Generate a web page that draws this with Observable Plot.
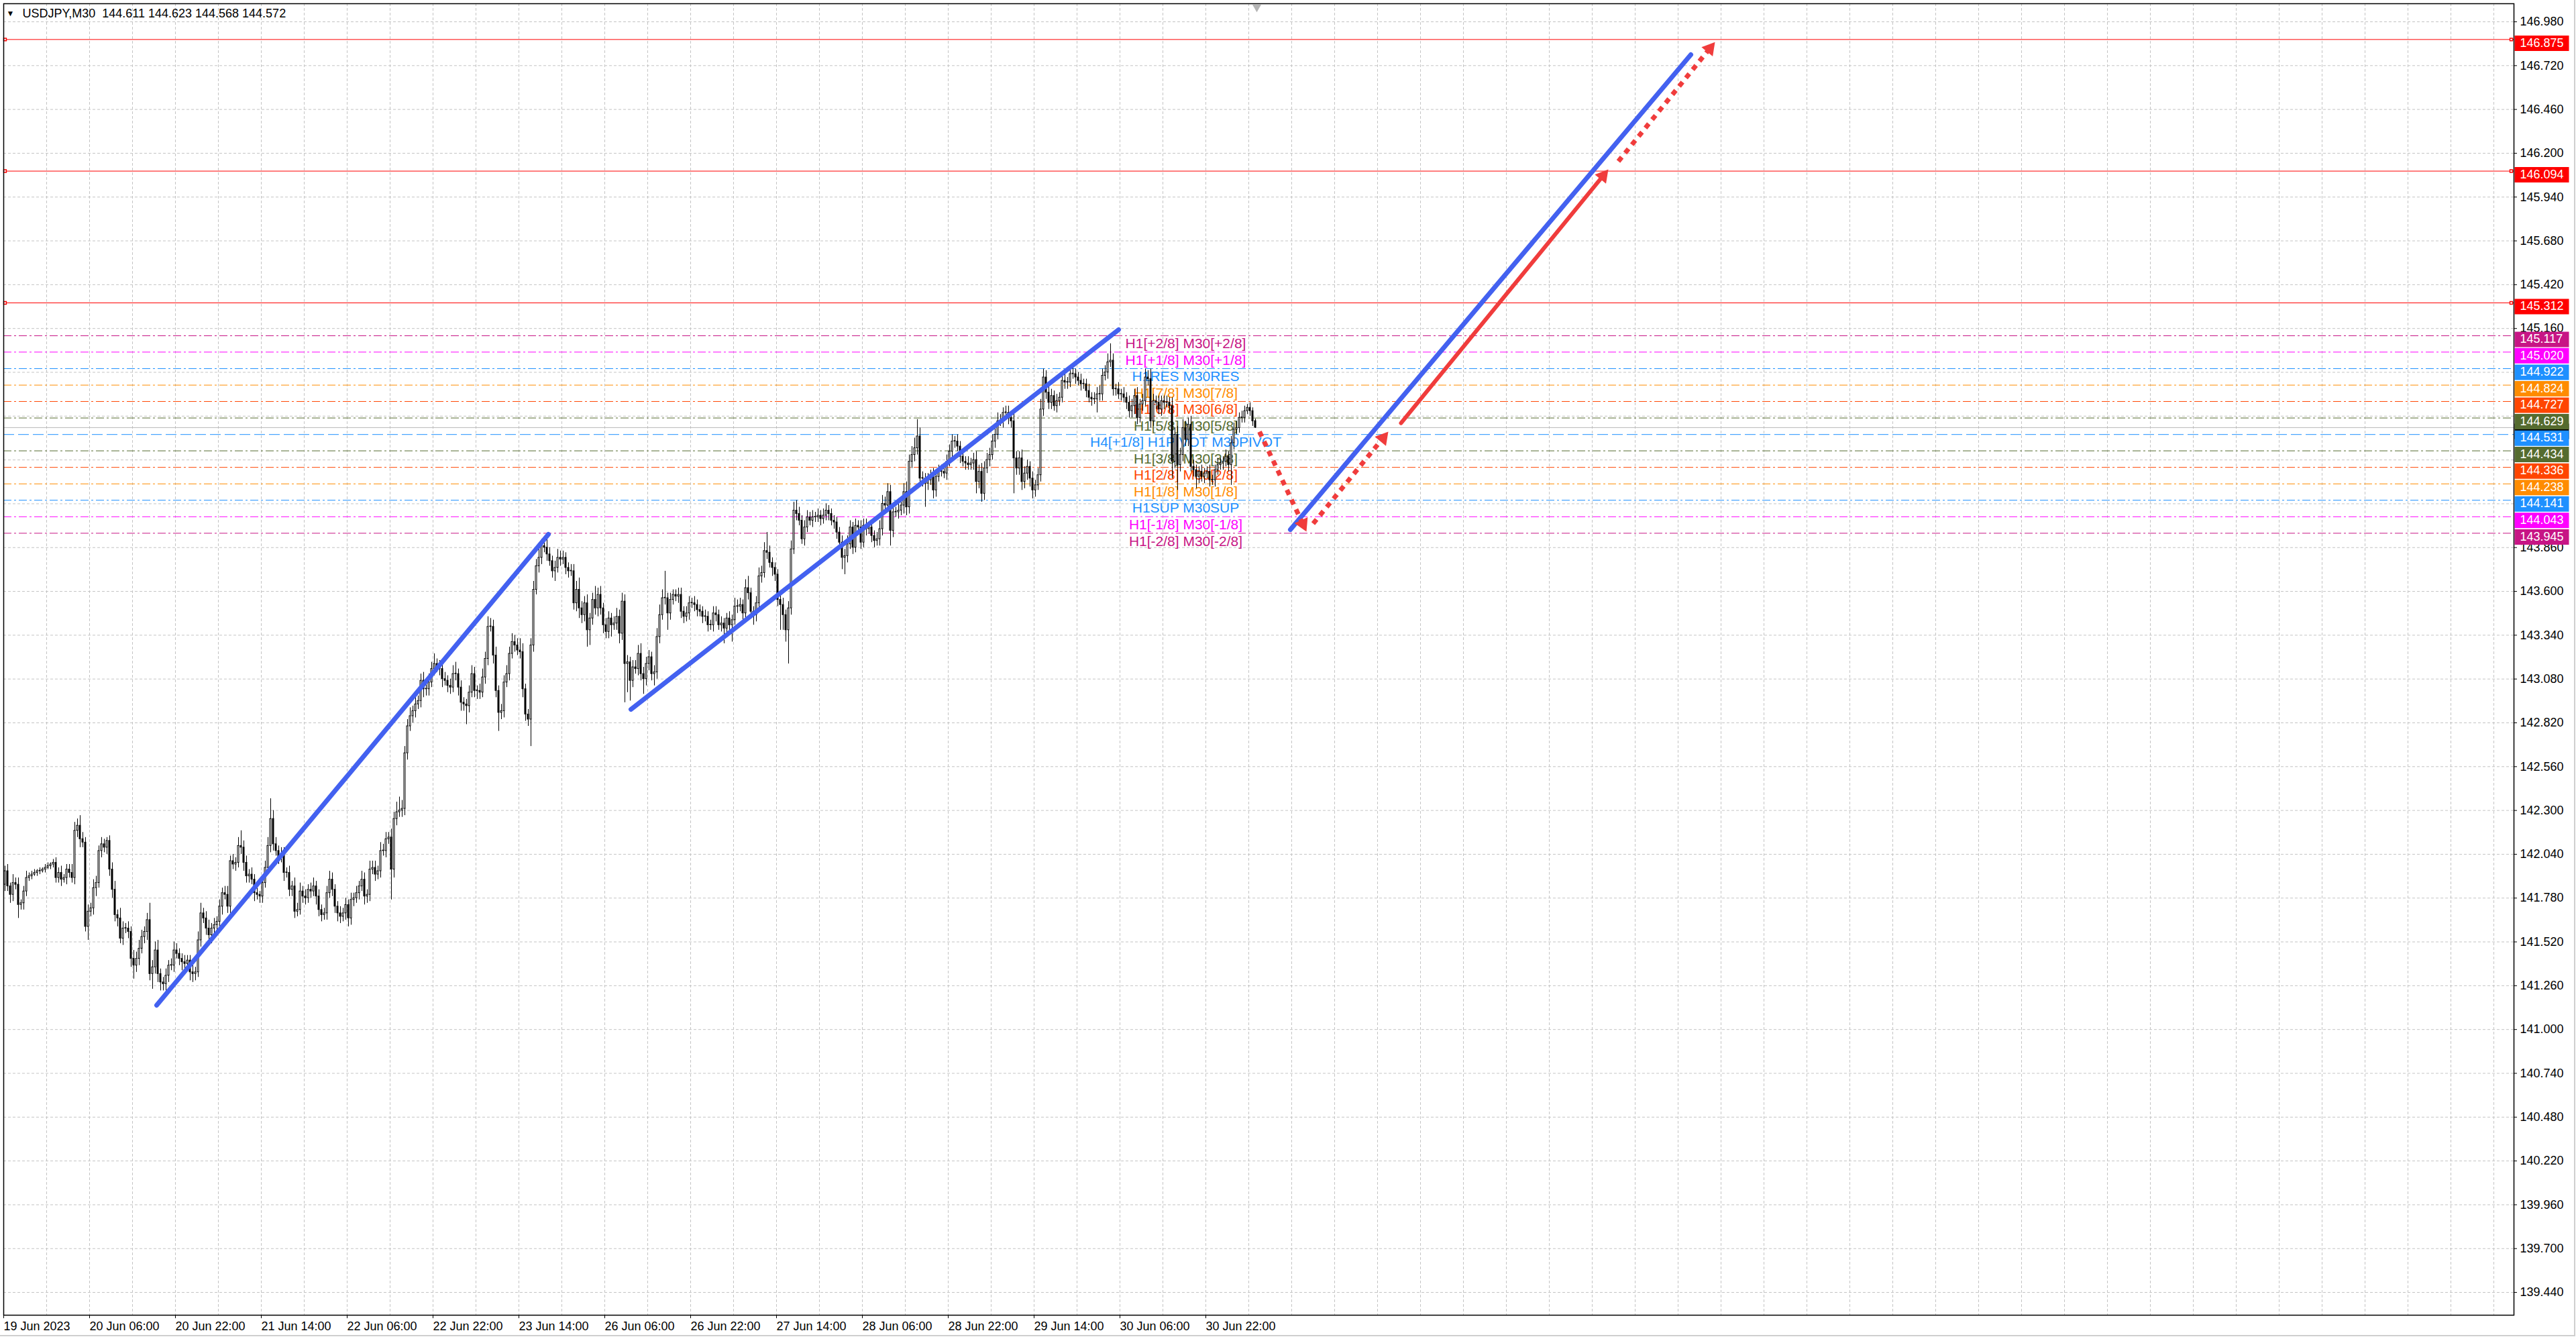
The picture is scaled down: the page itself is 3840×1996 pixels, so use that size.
<!DOCTYPE html>
<html><head><meta charset="utf-8">
<script src="https://cdn.jsdelivr.net/npm/d3@7"></script>
<script src="https://cdn.jsdelivr.net/npm/@observablehq/plot@0.6"></script>
<style>
html,body{margin:0;padding:0;background:#fff;}
#chart{position:relative;width:3840px;height:1996px;overflow:hidden;background:#fff}
#edge{position:absolute;left:0;top:0;width:3837px;height:1990px;border-right:2px solid #cfcfcf;border-bottom:2px solid #cfcfcf;pointer-events:none}
</style>
</head><body><div id="chart"><div id="edge"></div></div>
<script>
// ---------- DATA ----------
const symbolName = "USDJPY,M30";
const lastBar = [144.611, 144.623, 144.568, 144.572]; // O H L C of the last bar
const firstOpen = 141.86;
// closes in 0.01 JPY above 140.00, one per M30 bar from 19 Jun 14:00
const closes = [
194,185,180,187,186,174,175,182,190,191,192,193,194,194,195,196,197,198,199,190,
193,189,190,195,193,190,218,221,213,211,161,170,172,184,187,206,210,208,212,195,
183,168,166,154,160,160,158,142,138,142,148,155,158,165,133,137,147,133,128,127,
132,138,138,147,145,142,140,139,141,134,133,134,153,169,166,160,156,160,162,164,
173,181,180,173,200,198,199,209,208,199,191,192,189,181,180,179,187,196,209,225,
210,206,202,204,193,193,183,185,170,171,182,179,178,183,182,185,179,171,168,169,
181,189,183,173,169,167,169,174,166,177,178,181,185,189,179,180,195,196,192,194,
206,206,213,214,195,225,229,230,231,264,280,286,289,293,295,307,302,302,306,314,
317,315,314,308,307,304,303,311,311,303,294,293,292,300,311,301,301,300,309,320,
339,339,322,301,288,289,306,311,323,330,328,325,324,302,287,284,328,361,375,380,
387,386,382,378,372,374,380,379,380,374,372,372,353,361,350,346,353,337,344,355,
350,358,350,340,336,344,340,341,345,335,354,317,318,307,315,314,323,311,308,317,
321,311,312,333,346,356,356,347,355,358,357,358,348,345,347,353,353,352,349,348,
345,345,340,340,347,346,340,341,338,344,340,343,351,351,352,347,362,359,348,346,
353,369,371,384,383,377,374,370,355,352,346,337,350,385,408,406,402,391,398,404,
402,404,404,405,403,405,408,406,402,401,395,389,380,381,388,398,386,399,398,389,
399,397,398,393,390,391,397,412,411,419,396,407,407,408,411,419,410,437,441,445,
452,427,427,424,426,428,420,428,432,431,430,437,443,449,449,446,440,437,436,435,
436,438,425,431,418,433,438,441,449,453,461,461,466,466,463,461,439,433,439,425,
430,434,427,420,423,429,468,487,478,472,476,470,473,475,485,484,484,489,489,487,
485,483,483,479,475,474,474,477,477,488,490,496,497,480,480,477,477,475,472,467,
470,476,463,471,473,487,486,461,473,472,468,473,472,472,470,437,453,435,441,457,
450,459,434,432,428,431,428,430,431,426,426,432,435,436,437,440,435,448,456,457,
463,463,467,469,467,461,457];
// upper / lower wick lengths in 0.01 JPY
const upperWicks = [
3,4,2,5,3,4,2,3,4,2,2,2,1,2,1,2,2,1,2,3,3,4,2,3,3,5,5,4,6,4,3,4,3,5,4,3,4,3,2,3,
4,5,3,6,4,3,4,3,5,4,5,4,3,4,10,4,5,6,3,3,4,3,4,5,4,3,3,4,3,3,4,3,5,6,3,4,5,3,4,3,
4,3,4,5,3,4,3,5,9,4,4,3,4,3,3,2,4,4,5,12,5,4,3,4,4,3,4,3,5,4,5,3,4,3,4,5,3,4,3,3,
4,5,4,3,3,4,3,4,3,4,3,4,3,5,4,3,5,4,4,3,5,4,4,3,5,4,6,8,5,4,4,5,3,4,3,4,5,4,5,4,
6,3,4,3,4,3,4,5,7,3,4,3,3,4,5,4,3,4,5,4,6,5,4,5,3,4,4,5,4,5,4,4,7,5,3,3,4,5,4,5,
4,4,6,4,3,4,5,4,4,3,3,4,4,5,7,4,4,5,3,4,8,4,5,3,4,4,3,4,5,4,5,4,4,3,4,4,5,6,4,4,
4,3,4,5,6,5,16,3,4,3,3,4,4,3,4,4,3,4,3,3,3,4,3,3,4,4,3,4,3,3,4,3,5,4,4,3,5,7,3,3,
4,5,4,5,11,4,3,3,3,4,4,3,4,5,5,6,4,3,4,4,3,4,3,4,3,4,4,3,3,3,3,3,4,4,5,4,3,4,3,4,
4,4,3,4,3,4,5,5,4,5,4,3,3,4,4,5,6,4,5,6,10,5,4,3,4,4,5,3,3,3,3,4,4,4,3,4,3,4,3,4,
3,4,5,4,5,4,4,4,4,4,5,4,3,4,4,4,5,4,4,5,4,4,3,4,3,4,6,5,4,4,4,3,4,3,4,5,3,4,4,3,
3,4,3,3,4,3,4,4,5,4,4,5,10,4,3,4,3,4,3,4,4,4,5,3,4,5,4,6,4,3,4,3,3,4,3,5,4,5,4,5,
4,4,5,4,3,3,4,3,3,4,3,3,4,3,3,4,3,4,4,4,3,4,3,2,3,2,1];
const lowerWicks = [
4,3,5,4,3,8,3,4,3,2,2,1,2,2,1,2,1,2,2,3,3,4,2,4,3,3,4,4,5,3,3,8,3,4,5,3,4,3,4,4,
5,4,5,3,4,3,4,5,8,4,4,3,4,5,4,9,4,5,5,4,4,4,3,4,3,4,5,3,4,5,5,4,3,4,3,4,4,5,3,4,
4,5,3,4,4,3,4,3,4,5,4,4,3,5,3,4,4,3,4,4,4,3,4,3,5,3,4,4,4,3,3,4,4,3,4,3,5,4,4,3,
4,3,4,4,5,4,3,4,5,4,4,3,4,3,5,4,4,3,4,3,4,3,4,3,18,5,4,3,4,4,4,3,4,4,3,4,5,4,4,3,
4,3,4,5,3,4,4,3,4,5,5,4,11,4,3,4,5,4,3,4,4,3,5,4,11,4,4,3,4,3,4,3,4,5,4,4,16,4,3,4,
4,3,4,3,4,6,3,4,3,4,4,3,4,5,6,5,4,10,9,4,4,5,4,5,4,4,7,3,4,6,4,23,17,12,4,3,4,4,9,4,
4,4,7,4,4,3,4,10,4,3,3,4,4,4,3,4,3,4,4,3,4,3,4,3,4,4,3,4,9,4,4,10,3,4,3,4,3,4,4,6,
4,3,4,3,4,3,5,4,4,15,9,7,20,4,3,4,3,3,4,3,3,4,3,3,4,3,3,4,3,4,4,4,7,10,4,3,4,3,4,4,
3,4,3,4,4,3,4,4,3,4,9,4,3,4,3,5,5,4,4,4,4,4,5,14,4,3,5,4,3,3,3,4,3,4,4,3,4,3,4,3,
3,4,7,4,5,4,3,4,3,4,3,3,4,3,4,4,21,4,4,5,4,4,5,5,4,3,4,4,4,4,4,3,4,3,3,4,4,3,3,4,
3,4,3,4,3,4,3,8,4,4,3,4,3,4,4,3,4,3,4,4,4,5,4,3,4,3,4,4,3,4,3,4,4,3,4,10,4,15,4,4,
4,4,3,4,7,4,3,4,3,4,3,4,3,3,4,3,4,12,4,3,3,3,3,2,3,3,0];

const timeLabels = ["19 Jun 2023","20 Jun 06:00","20 Jun 22:00","21 Jun 14:00","22 Jun 06:00","22 Jun 22:00","23 Jun 14:00","26 Jun 06:00","26 Jun 22:00","27 Jun 14:00","28 Jun 06:00","28 Jun 22:00","29 Jun 14:00","30 Jun 06:00","30 Jun 22:00"];
const timeLabelBars = [0,32,64,96,128,160,192,224,256,288,320,352,384,416,448];
const priceTicks = [146.98,146.72,146.46,146.20,145.94,145.68,145.42,145.16,144.90,144.64,144.38,144.12,143.86,143.60,143.34,143.08,142.82,142.56,142.30,142.04,141.78,141.52,141.26,141.00,140.74,140.48,140.22,139.96,139.70,139.44];
// tick labels hidden behind the coloured price boxes in the picture
const hiddenTickLabels = [144.90, 144.64, 144.38, 144.12];

const levelPrices = [145.117,145.020,144.922,144.824,144.727,144.629,144.531,144.434,144.336,144.238,144.141,144.043,143.945];
const levelNames = ["H1[+2/8] M30[+2/8]","H1[+1/8] M30[+1/8]","H1RES M30RES","H1[7/8] M30[7/8]","H1[6/8] M30[6/8]","H1[5/8] M30[5/8]","H4[+1/8] H1PIVOT M30PIVOT","H1[3/8] M30[3/8]","H1[2/8] M30[2/8]","H1[1/8] M30[1/8]","H1SUP M30SUP","H1[-1/8] M30[-1/8]","H1[-2/8] M30[-2/8]"];
const levelColors = ["#C71585","#FF00FF","#1E90FF","#FF8C00","#FF4500","#556B2F","#1E90FF","#556B2F","#FF4500","#FF8C00","#1E90FF","#FF00FF","#C71585"];
const levelIsPivot = [false,false,false,false,false,false,true,false,false,false,false,false,false];
const levelLabelBar = 440;
const redLevels = [146.875, 146.094, 145.312];

// trend lines (bar index, price)
const trendX1 = [56.5, 233.25, 479];
const trendY1 = [141.144, 142.900, 143.966];
const trendX2 = [202.5, 415, 628.25];
const trendY2 = [143.939, 145.153, 146.785];
// red forecast arrows
const arrowX1 = [467.5, 487.5, 520.25, 601.25];
const arrowY1 = [144.548, 144.002, 144.599, 146.152];
const arrowX2 = [485, 515.5, 597.5, 637.25];
const arrowY2 = [143.955, 144.548, 146.104, 146.860];
const arrowDotted = [true, true, false, true];

// ---------- BUILD ----------
const n = closes.length;
const candles = closes.map((v, i) => {
  let o = i === 0 ? firstOpen : 140 + closes[i-1]/100;
  let c = 140 + v/100;
  let h = Math.max(o, c) + upperWicks[i]/100;
  let l = Math.min(o, c) - lowerWicks[i]/100;
  if (i === n - 1) { [o, h, l, c] = lastBar; }
  return {i, o, h, l, c};
});
const bid = lastBar[3];

const X_RANGE = [5, 3747], Y_RANGE = [1960, 5];
const xDomain = [-0.5, 935];
const yDomain = [139.3048, 147.0875];
const xs = Plot.scale({x: {domain: xDomain, range: X_RANGE}});
const ys = Plot.scale({y: {domain: yDomain, range: Y_RANGE}});

const RED = "#F03C3C", BLUE = "#4361F0";
const headR = 8;
const tipDist = 2 * headR * Math.sqrt(Math.PI / (3 * Math.sqrt(3)));
const arrows = arrowX1.map((_, k) => {
  const sx = xs.apply(arrowX1[k]), sy = ys.apply(arrowY1[k]);
  const tx = xs.apply(arrowX2[k]), ty = ys.apply(arrowY2[k]);
  const len = Math.hypot(tx - sx, ty - sy), ux = (tx - sx)/len, uy = (ty - sy)/len;
  const bx = tx - ux*tipDist*1.5 + ux*3, by = ty - uy*tipDist*1.5 + uy*3;
  return {
    x1: arrowX1[k], y1: arrowY1[k], x2: xs.invert(bx), y2: ys.invert(by),
    hx: xs.invert(tx - ux*tipDist), hy: ys.invert(ty - uy*tipDist),
    angle: Math.atan2(ux, -uy) * 180 / Math.PI, dotted: arrowDotted[k]
  };
});
const trends = trendX1.map((_, k) => ({x1: trendX1[k], y1: trendY1[k], x2: trendX2[k], y2: trendY2[k]}));
const levels = levelPrices.map((p, k) => ({price: p, name: levelNames[k], color: levelColors[k], pivot: levelIsPivot[k]}));
const boxes = [
  ...redLevels.map(p => ({price: p, color: "#FF0000"})),
  ...levels.map(d => ({price: d.price, color: d.color}))
];
const visibleTicks = priceTicks.filter(t => !hiddenTickLabels.some(h => Math.abs(h - t) < 1e-6));
const gridBars = d3.range(16, 935, 16).map(b => b - 0.5);
const labelMap = new Map(timeLabelBars.map((b, k) => [b - 0.5, timeLabels[k]]));
const headerText = `${symbolName}  ${lastBar.map(v => v.toFixed(3)).join(" ")}`;

const boxSymbol = {draw(ctx) { ctx.moveTo(1, -6); ctx.lineTo(82, -6); ctx.lineTo(82, 17); ctx.lineTo(1, 17); ctx.closePath(); }};

const chart = Plot.plot({
  width: 3840, height: 1996,
  marginLeft: 5, marginRight: 93, marginTop: 5, marginBottom: 36,
  x: {domain: xDomain, range: X_RANGE, label: null},
  y: {domain: yDomain, range: Y_RANGE, label: null},
  color: {type: "identity"},
  style: {fontFamily: "'Liberation Sans', Arial, sans-serif", background: "white", overflow: "visible", color: "black"},
  marks: [
    // grid
    Plot.ruleX(gridBars, {x: d => d, stroke: "#c4c4c4", strokeDasharray: "4,3"}),
    Plot.ruleY(priceTicks, {y: d => d, stroke: "#c4c4c4", strokeDasharray: "4,3"}),
    // horizontal levels
    Plot.ruleY(redLevels, {y: d => d, stroke: "#FF0000", strokeWidth: 1}),
    Plot.ruleY(levels.filter(d => !d.pivot), {y: "price", stroke: "color", strokeDasharray: "12,4,3,4"}),
    Plot.ruleY(levels.filter(d => d.pivot), {y: "price", stroke: "color", strokeDasharray: "16,6"}),
    Plot.ruleY([bid], {y: d => d, stroke: "#b8b8b8"}),
    Plot.text(levels, {x: () => levelLabelBar, y: "price", text: "name", fill: "color", fontSize: 21, textAnchor: "middle", lineAnchor: "middle", dy: 12}),
    // candles
    Plot.ruleX(candles, {x: "i", y1: "l", y2: "h", stroke: "black", strokeWidth: 1}),
    Plot.rect(candles, {x1: d => d.i - 0.25, x2: d => d.i + 0.25, y1: "o",
      y2: d => Math.abs(d.o - d.c) < 0.003 ? d.o + 0.003 : d.c,
      fill: d => d.c < d.o ? "black" : "white", stroke: "black", strokeWidth: 1}),
    // trend lines
    Plot.link(trends, {x1: "x1", y1: "y1", x2: "x2", y2: "y2", stroke: BLUE, strokeWidth: 7, strokeLinecap: "round"}),
    // red arrows
    Plot.link(arrows.filter(d => d.dotted), {x1: "x1", y1: "y1", x2: "x2", y2: "y2", stroke: RED, strokeWidth: 7, strokeDasharray: "8,8"}),
    Plot.link(arrows.filter(d => !d.dotted), {x1: "x1", y1: "y1", x2: "x2", y2: "y2", stroke: RED, strokeWidth: 6, strokeLinecap: "round"}),
    Plot.dot(arrows, {x: "hx", y: "hy", symbol: "triangle", r: headR, rotate: "angle", fill: RED, stroke: "none"}),
    // small squares at red line ends
    Plot.dot(redLevels, {y: d => d, frameAnchor: "right", symbol: "square", r: 2.2, fill: "white", stroke: "#FF0000", dx: -4}),
    Plot.dot(redLevels, {y: d => d, frameAnchor: "left", symbol: "square", r: 2.2, fill: "white", stroke: "#FF0000", dx: 2}),
    // frame
    Plot.frame({stroke: "black", strokeWidth: 1.5}),
    // axes
    Plot.axisY(visibleTicks, {anchor: "right", tickSize: 4, tickPadding: 5, tickFormat: d => d.toFixed(3), fontSize: 18, label: null}),
    Plot.axisX([...labelMap.keys()], {anchor: "bottom", tickSize: 5, tickPadding: 5, tickFormat: d => labelMap.get(d), textAnchor: "start", fontSize: 18, label: null}),
    // price boxes on the right scale
    Plot.dot([bid], {y: d => d, frameAnchor: "right", symbol: boxSymbol, r: 1, fill: "black", stroke: "none"}),
    Plot.dot(boxes, {y: "price", frameAnchor: "right", symbol: boxSymbol, r: 1, fill: "color", stroke: "none"}),
    Plot.text(boxes, {y: "price", frameAnchor: "right", text: d => d.price.toFixed(3), fill: "white", fontSize: 18, textAnchor: "start", lineAnchor: "middle", dx: 9, dy: 5}),
    // header
    Plot.text(["\u25BC"], {frameAnchor: "top-left", text: d => d, fontSize: 12, dx: 4, dy: 15, lineAnchor: "middle", textAnchor: "start", fill: "black"}),
    Plot.text([headerText], {frameAnchor: "top-left", text: d => d, fontSize: 18, dx: 28, dy: 15, lineAnchor: "middle", textAnchor: "start", fill: "black"}),
    // chart shift marker
    Plot.dot([n - 1], {x: d => d + 0.5, frameAnchor: "top", symbol: "triangle", rotate: 180, r: 5, fill: "#b4b4b4", dy: 5})
  ]
});
document.getElementById("chart").appendChild(chart);
</script>
</body></html>
